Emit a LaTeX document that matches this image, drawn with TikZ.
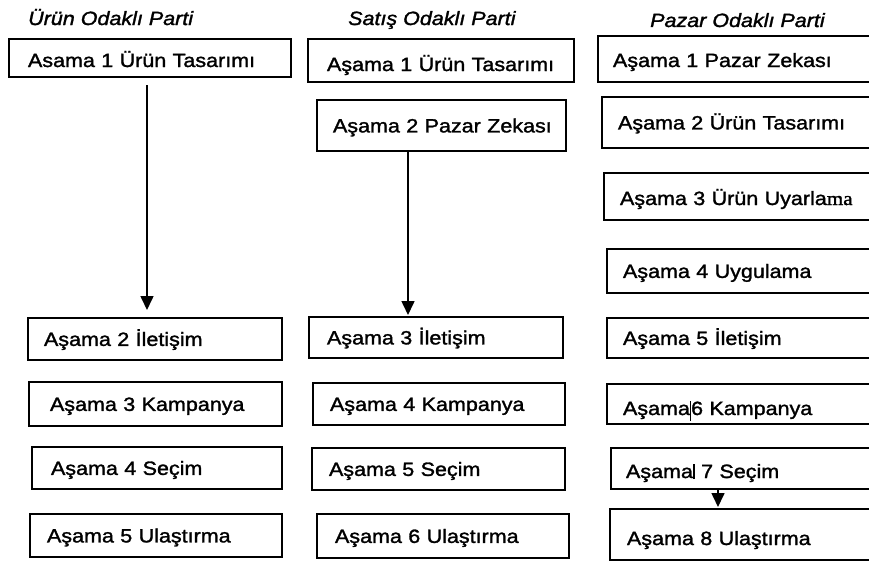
\documentclass[tikz,border=0pt]{standalone}
\usepackage{fontspec}
\setmainfont{Liberation Sans}[FakeStretch=1.12,FakeBold=1.5]
\newfontfamily\serifpart{Liberation Serif}[FakeStretch=1.1,FakeBold=1.5]
\usetikzlibrary{arrows.meta}
\newcommand\barsix{\rule[-6pt]{1.2pt}{20pt}}
\newcommand\barseven{\rule[-1pt]{1.8pt}{15pt}}
\tikzset{
  stage/.style={draw, line width=1.5pt, anchor=north west, outer sep=0pt,
    inner ysep=0pt, text height=13.8pt, text depth=0pt, align=left,
    font=\fontsize{19.2}{22}\selectfont},
  header/.style={anchor=base west, inner sep=0pt,
    font=\fontsize{19.2}{22}\selectfont\itshape},
  arr/.style={line width=1.6pt, -{Triangle[width=13pt,length=14pt]}}
}
\begin{document}
\begin{tikzpicture}[x=1pt,y=-1pt]
\useasboundingbox (0,0) rectangle (869,562);
\clip (0,0) rectangle (869,562);
\fill[white] (0,0) rectangle (869,562);

% headers
\node[header] (h1) at (28,25) {Ürün Odaklı Parti};
\node[header] (h2) at (348,25) {Satış Odaklı Parti};
\node[header] (h3) at (650,27) {Pazar Odaklı Parti};

% column 1
\node[stage, minimum height=38, inner xsep=19, text width=244, text height=18pt] (u1) at (9,39) {\mbox{Asama 1 Ürün Tasarımı}};
\node[stage, minimum height=42, inner xsep=16, text width=222] (u2) at (28,318) {\mbox{Aşama 2 İletişim}};
\node[stage, minimum height=44, inner xsep=21, text width=211] (u3) at (29,382) {\mbox{Aşama 3 Kampanya}};
\node[stage, minimum height=42, inner xsep=19, text width=212] (u4) at (32,447) {\mbox{Aşama 4 Seçim}};
\node[stage, minimum height=43, inner xsep=17, text width=218] (u5) at (30,514) {\mbox{Aşama 5 Ulaştırma}};

% column 2
\node[stage, minimum height=43, inner xsep=19, text width=228, text height=21pt] (s1) at (308,39) {\mbox{Aşama 1 Ürün Tasarımı}};
\node[stage, minimum height=51, inner xsep=16, text width=217] (s2) at (317,100) {\mbox{Aşama 2 Pazar Zekası}};
\node[stage, minimum height=41, inner xsep=18, text width=218] (s3) at (309,317) {\mbox{Aşama 3 İletişim}};
\node[stage, minimum height=42, inner xsep=17, text width=218] (s4) at (313,383) {\mbox{Aşama 4 Kampanya}};
\node[stage, minimum height=42, inner xsep=17, text width=219] (s5) at (312,448) {\mbox{Aşama 5 Seçim}};
\node[stage, minimum height=44, inner xsep=18, text width=216] (s6) at (317,514) {\mbox{Aşama 6 Ulaştırma}};

% column 3
\node[stage, minimum height=46, inner xsep=15, text width=257, text height=16pt] (p1) at (598,36) {\mbox{Aşama 1 Pazar Zekası}};
\node[stage, minimum height=51, inner xsep=16, text width=251] (p2) at (602,97) {\mbox{Aşama 2 Ürün Tasarımı}};
\node[stage, minimum height=47, inner xsep=16, text width=249, text height=17pt] (p3) at (604,173) {\mbox{Aşama 3 Ürün Uyarla{\serifpart ma}}};
\node[stage, minimum height=44, inner xsep=16, text width=246] (p4) at (607,249) {\mbox{Aşama 4 Uygulama}};
\node[stage, minimum height=40, inner xsep=16, text width=246] (p5) at (607,318) {\mbox{Aşama 5 İletişim}};
\node[stage, minimum height=40, inner xsep=16, text width=246, text height=22pt] (p6) at (607,384) {\mbox{Aşama\barsix 6 Kampanya}};
\node[stage, minimum height=41, inner xsep=15, text width=244, text height=19pt] (p7) at (611,448) {\mbox{Aşama\barseven\ 7 Seçim}};
\node[stage, minimum height=51, inner xsep=17, text width=241, text height=21pt] (p8) at (610,509) {\mbox{Aşama 8 Ulaştırma}};

% connectors
\draw[arr, shorten >=8pt] ([xshift=-3pt,yshift=-8pt]u1.south) -- ([xshift=-3pt]u1.south |- u2.north);
\draw[arr, shorten >=2pt] ([xshift=-33.5pt]s2.south) -- ([xshift=-33.5pt]s2.south |- s3.north);
\draw[arr, shorten >=2pt] ([xshift=-30pt]p7.south) -- ([xshift=-30pt]p7.south |- p8.north);
\end{tikzpicture}
\end{document}
